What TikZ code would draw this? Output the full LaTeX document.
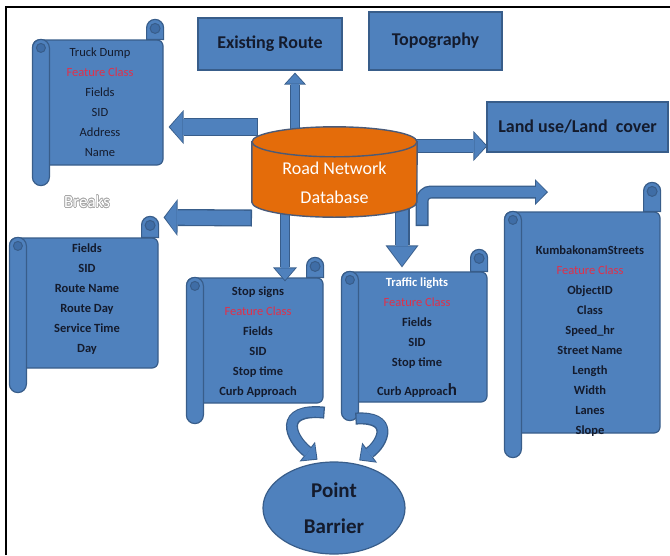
\documentclass[tikz,border=0pt]{standalone}
\usepackage{fontspec}
\setmainfont{Carlito}
\usepackage{contour}
\usetikzlibrary{shapes.geometric, arrows.meta}

\definecolor{boxblue}{HTML}{4F81BD}
\definecolor{edgeblue}{HTML}{385D8A}
\definecolor{curlblue}{HTML}{3F6DA6}
\definecolor{dborange}{HTML}{E46C0A}
\definecolor{dbedge}{HTML}{4A5A78}
\definecolor{inkblue}{HTML}{141B2D}
\definecolor{fieldred}{HTML}{E0304A}
\definecolor{breakgray}{HTML}{A8A8A8}

\pgfdeclarelayer{arrowlayer}
\pgfdeclarelayer{front}
\pgfsetlayers{main,arrowlayer,front}

\tikzset{
	topbox/.style = {draw = edgeblue, line width = 1.2pt, fill = boxblue, inner sep = 0pt,
		text = inkblue, font = \fontsize{18}{22}\selectfont\bfseries},
	scrollbody/.style = {draw = edgeblue, line width = 1.2pt, fill = boxblue, rounded corners = 6pt, inner sep = 0pt},
	scrollpart/.style = {draw = edgeblue, line width = 1.2pt, fill = boxblue},
	curl/.style = {draw = edgeblue, line width = 1pt, fill = curlblue},
	scrolltext/.style = {inner sep = 0pt, align = center, text = inkblue, font = \fontsize{12.5}{20}\selectfont},
	boldtext/.style = {scrolltext, font = \fontsize{12.5}{20}\selectfont\bfseries},
	dbpart/.style = {draw = dbedge, line width = 1.4pt, fill = dborange},
	blockarr/.code n args = {3}{%
		\pgfmathsetlengthmacro\arrshaft{#1-2.6pt}%
		\pgfmathsetlengthmacro\arrtipw{#2-4pt}%
		\pgfmathsetlengthmacro\arrtipl{#3-2.4pt}%
		\edef\arrpost{\noexpand\tikzset{postaction = {draw = boxblue, line width = \arrshaft,
			-{Triangle[width = \arrtipw, length = \arrtipl, line width = 0pt]}, shorten > = 1.4pt, shorten < = 1.3pt}}}%
		\tikzset{line width = #1, draw = edgeblue, -{Triangle[width = #2, length = #3, line width = 0pt]}}%
		\arrpost}
}

% roll at the top right and down the left side of a scroll body
\newcommand{\scrollparts}[3]{%
	\filldraw[scrollpart] ([xshift = -17pt]#1.north east) -- ([xshift = -17pt, yshift = #2pt-8.5pt]#1.north east)
		arc[start angle = 180, end angle = 0, radius = 8.5pt] -- (#1.north east) -- cycle;
	\filldraw[curl] ([xshift = -8.5pt, yshift = #2pt-9pt]#1.north east) circle[radius = 5pt];
	\filldraw[scrollpart] ([yshift = -8.5pt]#1.north west) arc[start angle = 180, end angle = 0, radius = 8.5pt]
		-- ([xshift = 17pt, yshift = 8.5pt-#3pt]#1.south west) arc[start angle = 0, end angle = -180, radius = 8.5pt] -- cycle;
	\filldraw[curl] ([xshift = 8.5pt, yshift = -8.5pt]#1.north west) circle[radius = 4.5pt];
}

\begin{document}
\begin{tikzpicture}[x = 1pt, y = -1pt]

	\useasboundingbox (0, 0) rectangle (670, 555);

	% Frame

	\draw[line width = 2pt] (6, 555) -- (6, 6.7) -- (670, 6.7);

	% Layers on top

	\node[topbox, minimum width = 144pt, minimum height = 52pt] (route) at (270, 44) {Existing Route};
	\node[topbox, minimum width = 133pt, minimum height = 58pt] (topo) at (435.5, 41) {Topography};
	\node[topbox, minimum width = 181pt, minimum height = 50pt] (landuse) at (577.5, 127) {Land use/Land~~cover};

	% Truck dump

	\node[scrollbody, minimum width = 130pt, minimum height = 125pt] (truck) at (98, 102.5) {};
	\scrollparts{truck}{20}{20}
	\node[scrolltext] (trucktext) at ([xshift = 2pt]truck.center)
		{Truck Dump\\\textcolor{fieldred}{Feature Class}\\Fields\\SID\\Address\\Name};

	% Breaks

	\node[font = \fontsize{17}{20}\selectfont] (breaklabel) at (87, 202) {\contourlength{0.6pt}\contour{breakgray}{\textcolor{white}{Breaks}}};
	\node[scrollbody, minimum width = 148pt, minimum height = 130pt] (breaks) at (84, 303) {};
	\scrollparts{breaks}{21}{24}
	\node[boldtext] (breakstext) at ([xshift = 3pt, yshift = 4pt]breaks.center)
		{Fields\\SID\\Route Name\\Route Day\\Service Time\\Day};

	% Stop signs

	\node[scrollbody, minimum width = 136pt, minimum height = 125pt] (stop) at (255, 340.5) {};
	\scrollparts{stop}{20}{20}
	\node[boldtext] (stoptext) at ([xshift = 3pt, yshift = -1.5pt]stop.center)
		{Stop signs\\\textcolor{fieldred}{\mdseries Feature Class}\\Fields\\SID\\Stop time\\Curb Approach};

	% Traffic lights

	\node[scrollbody, minimum width = 145pt, minimum height = 130pt] (traffic) at (414.5, 337) {};
	\scrollparts{traffic}{22}{18}
	\node[boldtext] (traffictext) at ([xshift = 2.5pt, yshift = -0.5pt]traffic.center)
		{\textcolor{white}{Traffic lights}\\\textcolor{fieldred}{\mdseries Feature Class}\\Fields\\SID\\Stop time\\[9pt]Curb Approac{\fontsize{17}{20}\selectfont h}};

	% Streets

	\node[scrollbody, minimum width = 155pt, minimum height = 221pt] (kumb) at (582.5, 322.5) {};
	\scrollparts{kumb}{29}{24}
	\node[boldtext] (kumbtext) at ([xshift = 7.5pt, yshift = -19pt]kumb.center)
		{KumbakonamStreets\\\textcolor{fieldred}{\mdseries Feature Class}\\ObjectID\\Class\\Speed\_hr\\Street Name\\Length\\Width\\Lanes\\Slope};

	% Point barrier

	\node[ellipse, draw = edgeblue, line width = 1.2pt, fill = boxblue, minimum width = 142pt, minimum height = 92pt,
		inner sep = 0pt, align = center, text = inkblue, font = \fontsize{21}{36}\selectfont\bfseries] (barrier) at (334, 508) {Point\\Barrier};

	% Database

	\begin{pgfonlayer}{front}
		\node[minimum width = 165pt, minimum height = 90pt, inner sep = 0pt] (db) at (334.5, 172) {};
		\filldraw[dbpart] ([yshift = -15pt]db.north west) -- ([yshift = 15pt]db.south west)
			arc[start angle = 180, end angle = 360, x radius = 82.5pt, y radius = 15pt] -- ([yshift = -15pt]db.north east) -- cycle;
		\filldraw[dbpart] ([yshift = -15pt]db.north) ellipse[x radius = 82.5pt, y radius = 15pt];
		\node[align = center, text = white, font = \fontsize{18}{29}\selectfont] (dbtext) at ([yshift = -10.5pt]db.center) {Road Network\\Database};
	\end{pgfonlayer}

	% Arrows out of the database

	\begin{pgfonlayer}{arrowlayer}
		\draw[blockarr = {18pt}{34pt}{15pt}] ([xshift = -76.5pt, yshift = 45pt]db.center) -- ([xshift = 5pt, yshift = -24.5pt]truck.east);
		\draw[blockarr = {17pt}{37pt}{14pt}] ([xshift = -82.5pt, yshift = -46pt]db.center) -- ([xshift = 5pt, yshift = 20pt]breaks.north east);
		\draw[blockarr = {10pt}{22pt}{12pt}] ([xshift = -39.5pt, yshift = 27pt]db.center) -- ([xshift = 25pt, yshift = -2pt]route.south);
		\draw[blockarr = {14pt}{30pt}{14pt}] ([xshift = 75.5pt, yshift = 26pt]db.center) -- ([xshift = 1pt, yshift = -19pt]landuse.west);
		\draw[blockarr = {10pt}{24pt}{14pt}] ([xshift = -49.5pt, yshift = -33pt]db.center) -- ([xshift = 30pt, yshift = -4pt]stop.north);
		\draw[blockarr = {15pt}{33pt}{22pt}] ([xshift = 67.5pt, yshift = -33pt]db.center) -- ([xshift = -12.5pt, yshift = 4pt]traffic.north);
		\coordinate (bendend) at (548, 192);
		\draw[blockarr = {13pt}{26pt}{13pt}, rounded corners = 9pt] ([xshift = 87.5pt, yshift = -54pt]db.center) |- (bendend);

		% Curved arrows to the point barrier
		\draw[blockarr = {12pt}{25pt}{13pt}] ([xshift = 1pt, yshift = -9pt]stop.south east)
			.. controls (278, 408) and (290, 438) .. ([yshift = 3pt]barrier.110);
		\draw[blockarr = {12pt}{25pt}{13pt}] ([xshift = 14pt, yshift = -16pt]traffic.south west)
			.. controls (394, 416) and (384, 442) .. ([yshift = 4pt]barrier.60);
	\end{pgfonlayer}

\end{tikzpicture}
\end{document}
